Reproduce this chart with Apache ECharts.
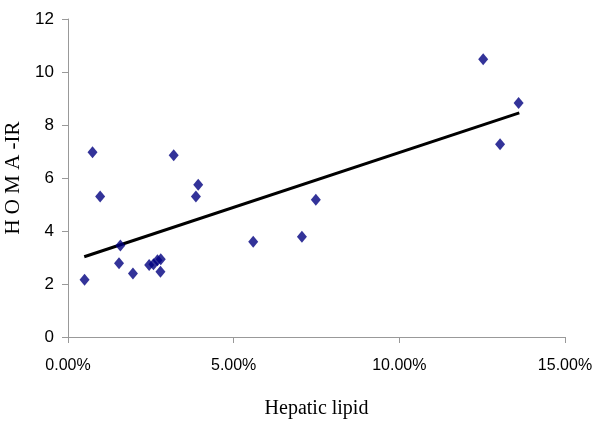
<!DOCTYPE html>
<html>
<head>
<meta charset="utf-8">
<script src="https://cdn.jsdelivr.net/npm/echarts@6/dist/echarts.min.js"></script>
<style>
  html, body { margin: 0; padding: 0; background: #fff; }
  #chart { width: 600px; height: 428px; }
</style>
</head>
<body>
<div id="chart"></div>
<script>
// hepatic lipid (fraction) vs HOMA-IR
var lipid = [0.0050, 0.0074, 0.0097, 0.0154, 0.0158, 0.0196, 0.0245, 0.0258, 0.0270, 0.0280, 0.0279,
             0.0319, 0.0386, 0.0393, 0.0559, 0.0706, 0.0748, 0.1253, 0.1304, 0.1360];
var homa = [2.16, 6.97, 5.30, 2.78, 3.45, 2.40, 2.72, 2.75, 2.90, 2.93, 2.46,
            6.86, 5.30, 5.75, 3.59, 3.78, 5.18, 10.48, 7.27, 8.83];
// linear trend line end points
var trendX = [0.0049, 0.1362];
var trendY = [3.03, 8.46];
var xTicks = [0, 0.05, 0.10, 0.15];

var points = lipid.map(function (v, i) { return [v, homa[i]]; });
var trend = trendX.map(function (v, i) { return [v, trendY[i]]; });

var chart = echarts.init(document.getElementById('chart'));
var axisGray = '#999999';
chart.setOption({
    backgroundColor: '#fff',
    animation: false,
    grid: { left: 68, right: 35, top: 19, bottom: 91, containLabel: false, outerBoundsMode: 'none' },
    xAxis: {
        type: 'value',
        min: xTicks[0],
        max: xTicks[xTicks.length - 1],
        interval: 0.05,
        name: 'Hepatic lipid',
        nameLocation: 'middle',
        nameGap: 62,
        nameTextStyle: { fontFamily: 'Liberation Serif', fontSize: 20, color: '#000' },
        axisLine: { lineStyle: { color: axisGray, width: 1 } },
        axisTick: { show: true, length: 6, lineStyle: { color: axisGray } },
        splitLine: { show: false },
        axisLabel: {
            margin: 21,
            fontFamily: 'Liberation Sans',
            fontSize: 16,
            color: '#000',
            formatter: function (v) { return (v * 100).toFixed(2) + '%'; }
        }
    },
    yAxis: {
        type: 'value',
        min: 0,
        max: 12,
        interval: 2,
        name: 'H O M A -IR',
        nameLocation: 'middle',
        nameGap: 44,
        nameTextStyle: { fontFamily: 'Liberation Serif', fontSize: 21, color: '#000' },
        axisLine: { show: true, lineStyle: { color: axisGray, width: 1 } },
        axisTick: { show: true, length: 6, lineStyle: { color: axisGray } },
        splitLine: { show: false },
        axisLabel: {
            margin: 14,
            fontFamily: 'Liberation Sans',
            fontSize: 17,
            color: '#000'
        }
    },
    series: [
        {
            type: 'line',
            data: trend,
            symbol: 'none',
            lineStyle: { color: '#000', width: 3 },
            z: 2
        },
        {
            type: 'scatter',
            data: points,
            symbol: 'diamond',
            symbolSize: [10, 12],
            itemStyle: { color: '#000080' },
            z: 3
        }
    ]
});
</script>
</body>
</html>
